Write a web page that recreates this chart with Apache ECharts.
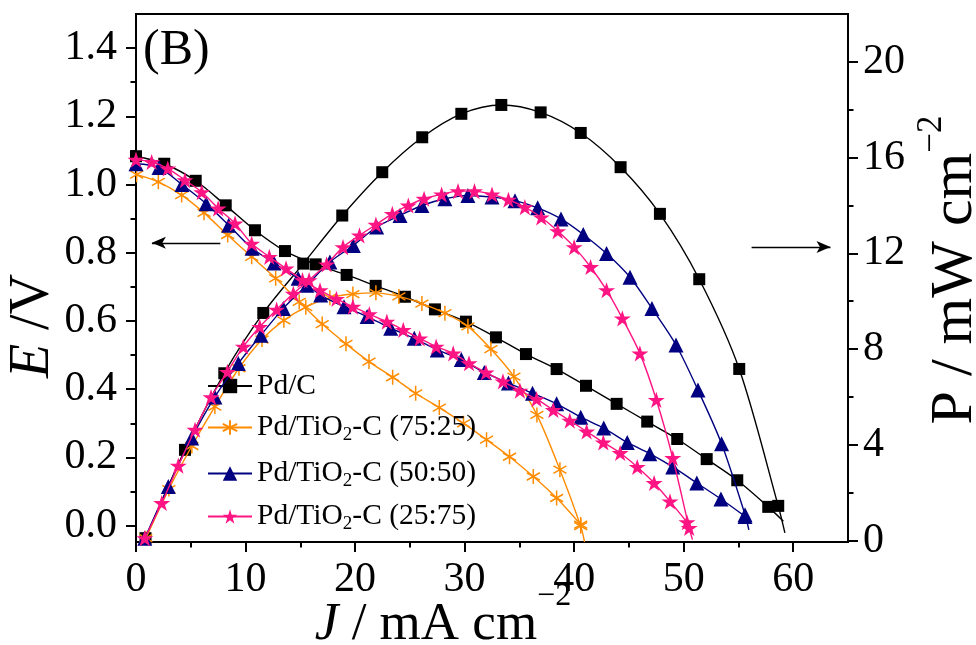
<!DOCTYPE html>
<html><head><meta charset="utf-8">
<script src="https://cdn.jsdelivr.net/npm/echarts@6/dist/echarts.min.js"></script>
<style>html,body{margin:0;padding:0;background:#fff}#c{width:976px;height:645px}</style>
</head><body><div id="c"></div>
<script>
const FONT = 'Liberation Serif';

// ---- tick values ----
const xTicks = [0, 10, 20, 30, 40, 50, 60];
const xMinor = [5, 15, 25, 35, 45, 55];
const eTicks = [0, 0.2, 0.4, 0.6, 0.8, 1.0, 1.2, 1.4];
const eMinor = [0.1, 0.3, 0.5, 0.7, 0.9, 1.1, 1.3];
const pTicks = [0, 4, 8, 12, 16, 20];
const pMinor = [2, 6, 10, 14, 18];

// ---- legend names ----
const names = ['Pd/C', 'Pd/TiO2-C (75:25)', 'Pd/TiO2-C (50:50)', 'Pd/TiO2-C (25:75)'];

// ---- Pd/C ----
const pdcPolJ = [0, 2.58, 5.45, 8.19, 10.86, 13.6, 16.4, 19.23, 21.88, 24.55, 27.29, 30.12, 32.86, 35.6, 38.4, 41.08, 43.88, 46.67, 49.41, 52.1, 54.89, 57.72];
const pdcPolE = [1.083, 1.061, 1.011, 0.939, 0.866, 0.805, 0.766, 0.735, 0.703, 0.671, 0.634, 0.598, 0.552, 0.503, 0.459, 0.410, 0.357, 0.305, 0.254, 0.195, 0.133, 0.055];
const pdcPolTailJ = [59.1];
const pdcPolTailE = [0.013];
const pdcPowJ = [0.87, 4.47, 8.06, 11.62, 15.27, 18.83, 22.48, 26.13, 29.7, 33.35, 36.94, 40.6, 44.24, 47.83, 51.42, 55.07, 58.63];
const pdcPowP = [0.1, 3.79, 6.99, 9.51, 11.57, 13.58, 15.39, 16.85, 17.83, 18.2, 17.89, 17.03, 15.6, 13.65, 10.92, 7.17, 1.45];
const pdcPowTailJ = [59.24];
const pdcPowTailP = [0.32];

// ---- Pd/TiO2-C (75:25) ----
const t75PolJ = [0.06, 2.04, 4.17, 6.21, 8.37, 10.56, 12.75, 14.9, 17.0, 19.17, 21.27, 23.43, 25.53, 27.69, 29.9, 32.0, 34.1, 36.27, 38.4, 40.6];
const t75PolE = [1.029, 1.008, 0.969, 0.917, 0.852, 0.788, 0.725, 0.656, 0.591, 0.533, 0.481, 0.435, 0.388, 0.346, 0.300, 0.252, 0.202, 0.144, 0.081, 0.003];
const t75PowJ = [0.9, 3.0, 5.1, 7.2, 9.4, 11.5, 13.5, 15.5, 17.7, 19.8, 21.9, 24.0, 26.1, 28.2, 30.3, 32.4, 34.5, 36.6, 38.7, 40.6];
const t75PowP = [0.1, 2.15, 3.95, 5.6, 7.2, 8.4, 9.2, 9.75, 10.15, 10.3, 10.35, 10.2, 9.9, 9.5, 8.95, 8.0, 6.85, 5.25, 2.96, 0.6];
const t75PowTailJ = [40.95];
const t75PowTailP = [-0.06];

// ---- Pd/TiO2-C (50:50) ----
const t50PolJ = [0, 2.1, 4.2, 6.4, 8.46, 10.6, 12.6, 14.8, 16.86, 18.99, 21.1, 23.25, 25.4, 27.5, 29.7, 31.8, 34.0, 36.2, 38.4, 40.6, 42.7, 44.85, 46.9, 49.0, 51.2, 53.4, 55.6];
const t50PolE = [1.061, 1.05, 1.0, 0.944, 0.881, 0.813, 0.77, 0.725, 0.676, 0.642, 0.613, 0.579, 0.549, 0.515, 0.487, 0.449, 0.418, 0.388, 0.357, 0.318, 0.286, 0.244, 0.211, 0.172, 0.125, 0.078, 0.027];
const t50PowJ = [0.8, 2.95, 5.08, 7.2, 9.34, 11.4, 13.45, 15.6, 17.7, 19.84, 21.97, 24.1, 26.1, 28.2, 30.3, 32.5, 34.6, 36.67, 38.8, 40.83, 42.96, 45.1, 47.1, 49.3, 51.3, 53.46, 55.6];
const t50PowP = [0.1, 2.26, 4.28, 6.0, 7.4, 8.58, 9.7, 10.67, 11.64, 12.33, 13.1, 13.58, 14.0, 14.28, 14.42, 14.35, 14.2, 13.9, 13.44, 12.79, 11.99, 11.0, 9.7, 8.17, 6.29, 4.04, 1.08];
const t50PowTailJ = [55.95];
const t50PowTailP = [0.45];

// ---- Pd/TiO2-C (25:75) ----
const t25PolJ = [0, 1.43, 2.9, 4.47, 6.0, 7.5, 9.04, 10.56, 12.17, 13.7, 15.2, 16.8, 18.3, 19.8, 21.3, 22.9, 24.4, 25.9, 27.4, 28.96, 30.4, 31.95, 33.5, 35.05, 36.57, 38.1, 39.6, 41.14, 42.66, 44.2, 45.76, 47.3, 48.75, 50.3];
const t25PolE = [1.073, 1.066, 1.047, 1.013, 0.978, 0.93, 0.886, 0.827, 0.788, 0.754, 0.72, 0.69, 0.665, 0.642, 0.62, 0.598, 0.574, 0.549, 0.525, 0.505, 0.476, 0.449, 0.423, 0.396, 0.371, 0.339, 0.308, 0.276, 0.244, 0.213, 0.172, 0.125, 0.071, 0.01];
const t25PowJ = [0.8, 2.35, 3.86, 5.39, 6.85, 8.34, 9.8, 11.3, 12.84, 14.36, 15.8, 17.4, 18.9, 20.4, 21.9, 23.4, 24.86, 26.3, 27.9, 29.4, 30.9, 32.5, 34.0, 35.5, 37.0, 38.5, 40.0, 41.5, 42.96, 44.4, 46.0, 47.5, 49.0, 50.5];
const t25PowP = [0.1, 1.57, 3.13, 4.63, 5.99, 7.05, 8.1, 8.93, 9.65, 10.32, 10.88, 11.54, 12.26, 12.75, 13.2, 13.65, 14.0, 14.28, 14.46, 14.6, 14.6, 14.46, 14.24, 13.93, 13.5, 12.93, 12.26, 11.43, 10.46, 9.28, 7.82, 5.88, 3.45, 0.53];
const t25PowTailJ = [50.8];
const t25PowTailP = [0.04];

// ---- arrows (data coordinates) ----
const leftArrowJ = [7.7, 1.45];
const leftArrowE = [0.829, 0.829];
const rightArrowJ = [56.2, 63.4];
const rightArrowP = [12.26, 12.26];

// ---- styling ----
const colors = ['#000000', '#FF8C00', '#000080', '#FF1483'];
const STAR = 'path://M50,0 L61.2,34.5 L97.6,34.5 L68.2,55.9 L79.4,90.5 L50,69.1 L20.6,90.5 L31.8,55.9 L2.4,34.5 L38.8,34.5 Z';
const ASTER = 'path://M10,0 L10,20 M1.34,5 L18.66,15 M1.34,15 L18.66,5';
const symbols = [
  {symbol: 'rect', size: 12},
  {symbol: ASTER, size: 15},
  {symbol: 'triangle', size: 15},
  {symbol: STAR, size: 17}
];

function pts(J, V) { return J.map((j, i) => [j, V[i]]); }
function tail(J, V) { return J.map((j, i) => ({value: [j, V[i]], symbol: 'none'})); }

function mkSeries(k, yIdx, J, V, TJ, TV, extra) {
  const s = {
    name: names[k], type: 'line', xAxisIndex: 0, yAxisIndex: yIdx,
    data: pts(J, V).concat(TJ ? tail(TJ, TV) : []),
    smooth: 0.3,
    symbol: symbols[k].symbol, symbolSize: symbols[k].size, symbolKeepAspect: true,
    showAllSymbol: true,
    lineStyle: {color: colors[k], width: 1.4},
    itemStyle: k === 1 ? {color: colors[k], borderColor: colors[k], borderWidth: 1.5} : {color: colors[k], borderWidth: 0},
    emphasis: {disabled: true},
    z: 2 + k
  };
  return Object.assign(s, extra || {});
}

const arrowStyle = {color: '#000', width: 1.3, type: 'solid'};
const series = [
  mkSeries(0, 0, pdcPolJ, pdcPolE, pdcPolTailJ, pdcPolTailE, {
    markLine: {silent: true, symbol: ['none', 'arrow'], symbolSize: [9, 14], lineStyle: arrowStyle, label: {show: false},
      data: [[{coord: [leftArrowJ[0], leftArrowE[0]]}, {coord: [leftArrowJ[1], leftArrowE[1]]}]]}
  }),
  mkSeries(0, 2, pdcPowJ, pdcPowP, pdcPowTailJ, pdcPowTailP, {
    markLine: {silent: true, symbol: ['none', 'arrow'], symbolSize: [9, 14], lineStyle: arrowStyle, label: {show: false},
      data: [[{coord: [rightArrowJ[0], rightArrowP[0]]}, {coord: [rightArrowJ[1], rightArrowP[1]]}]]}
  }),
  mkSeries(1, 0, t75PolJ, t75PolE),
  mkSeries(1, 2, t75PowJ, t75PowP, t75PowTailJ, t75PowTailP),
  mkSeries(2, 0, t50PolJ, t50PolE),
  mkSeries(2, 2, t50PowJ, t50PowP, t50PowTailJ, t50PowTailP),
  mkSeries(3, 0, t25PolJ, t25PolE),
  mkSeries(3, 2, t25PowJ, t25PowP, t25PowTailJ, t25PowTailP)
];

const axisLineStyle = {color: '#000', width: 2};
const tickLabel = {fontFamily: FONT, fontSize: 42, color: '#000'};

function mainAxis(base, ticks, labelExtra) {
  return Object.assign({
    type: 'value',
    axisLine: {show: true, onZero: false, lineStyle: axisLineStyle},
    axisTick: {show: true, customValues: ticks, length: 10, lineStyle: axisLineStyle},
    axisLabel: Object.assign({show: true, customValues: ticks}, tickLabel, labelExtra),
    splitLine: {show: false}, minorTick: {show: false}
  }, base);
}
function minorAxis(base, ticks) {
  return Object.assign({
    type: 'value',
    axisLine: {show: false, onZero: false},
    axisTick: {show: true, customValues: ticks, length: 5.5, lineStyle: axisLineStyle},
    axisLabel: {show: false},
    splitLine: {show: false}
  }, base);
}

const legendRich = {
  a: {fontFamily: FONT, fontSize: 29.5, color: '#000', lineHeight: 36},
  s: {fontFamily: FONT, fontSize: 19, color: '#000', lineHeight: 36, padding: [16, 0, 0, 0]}
};
const legendCenters = [389, 428, 474, 517];
const legends = names.map((n, i) => ({
  data: [n], left: 207, top: legendCenters[i] - 18, padding: 0,
  itemWidth: 44, itemHeight: 18, itemGap: 0, selectedMode: false,
  formatter: nm => nm.indexOf('TiO2') >= 0 ? '{a|Pd/TiO}{s|2}{a|' + nm.split('TiO2')[1] + '}' : '{a|' + nm + '}',
  textStyle: {fontFamily: FONT, fontSize: 29.5, color: '#000', rich: legendRich}
}));

function titleRich(size, supSize, raise) {
  return {
    i: {fontFamily: FONT, fontSize: size, fontStyle: 'italic', fill: '#000', lineHeight: 64},
    n: {fontFamily: FONT, fontSize: size, fill: '#000', lineHeight: 64},
    p: {fontFamily: FONT, fontSize: supSize, fill: '#000', lineHeight: 64, padding: [0, 0, raise, 0]}
  };
}

const option = {
  animation: false,
  backgroundColor: '#fff',
  grid: {left: 136, right: 128, top: 14, bottom: 103, show: true, borderColor: '#000', borderWidth: 2, backgroundColor: 'rgba(0,0,0,0)'},
  xAxis: [
    mainAxis({min: 0, max: 65, position: 'bottom'}, xTicks, {margin: 17}),
    minorAxis({min: 0, max: 65, position: 'bottom'}, xMinor)
  ],
  yAxis: [
    mainAxis({min: -0.048, max: 1.5, position: 'left'}, eTicks, {margin: 19, formatter: v => v.toFixed(1)}),
    minorAxis({min: -0.048, max: 1.5, position: 'left'}, eMinor),
    mainAxis({min: -0.06, max: 22, position: 'right'}, pTicks, {margin: 15}),
    minorAxis({min: -0.06, max: 22, position: 'right'}, pMinor)
  ],
  legend: legends,
  series: series,
  graphic: [
    {type: 'text', left: 143, top: 26, style: {text: '(B)', fontFamily: FONT, fontSize: 50, fill: '#000'}},
    {type: 'text', x: 33, y: 326, rotation: Math.PI / 2,
      style: {text: '{i|E}{n| /V}', rich: titleRich(56, 34, 0), align: 'center', verticalAlign: 'middle'}},
    {type: 'text', x: 443, y: 625,
      style: {text: '{i|J}{n| / mA cm}{p|\u22122}', rich: titleRich(53, 32, 56), align: 'center', verticalAlign: 'middle'}},
    {type: 'text', x: 955, y: 270, rotation: Math.PI / 2,
      style: {text: '{n|P / mW cm}{p|\u22122}', rich: titleRich(60, 35, 46), align: 'center', verticalAlign: 'middle'}}
  ]
};

const chart = echarts.init(document.getElementById('c'), null, {renderer: 'canvas'});
chart.setOption(option);
</script>
</body></html>
